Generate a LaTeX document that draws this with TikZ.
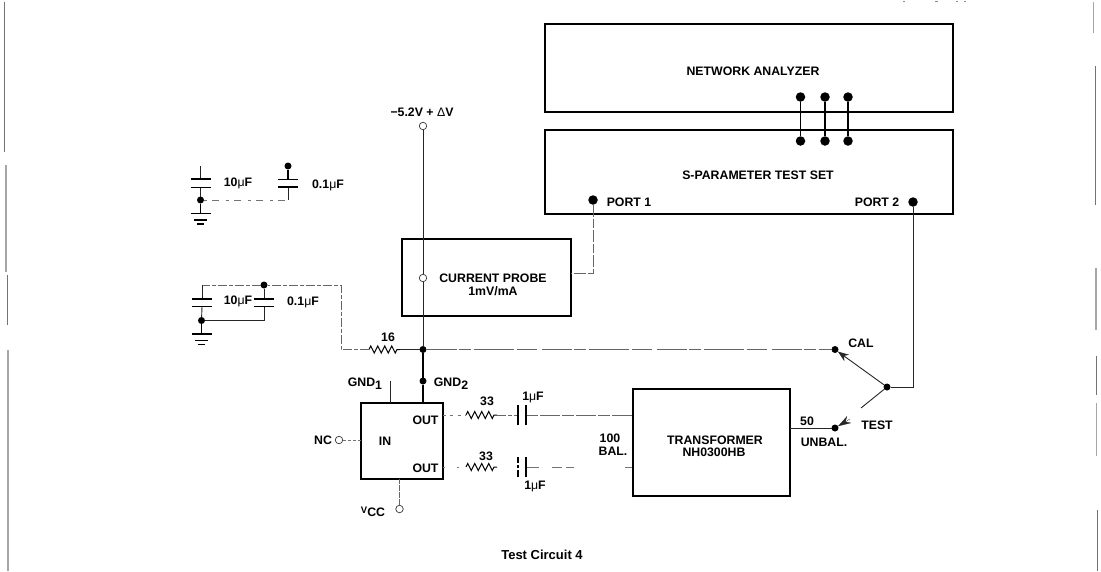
\documentclass[tikz,border=0pt]{standalone}
\usepackage{fontspec}
\setmainfont{Liberation Sans}
\usetikzlibrary{arrows.meta,decorations.pathmorphing,calc}
\newcommand{\mumd}{{\mdseries μ}}
\tikzset{
  x=1pt,y=-1pt,
  box/.style={draw=black,line width=2.2pt,inner sep=0pt,outer sep=0pt},
  wire/.style={draw=black!85,line width=0.9pt},
  thickwire/.style={draw=black,line width=1.3pt},
  faint/.style={draw=black!60,line width=0.7pt,dash pattern=on 9pt off 2pt on 4pt off 2pt},
  veryfaint/.style={draw=black!55,line width=0.6pt,dash pattern=on 3pt off 5pt on 7pt off 7pt},
  plate/.style={draw=black,line width=1.3pt},
  dot/.style={circle,fill=black,draw=none,minimum size=7pt,inner sep=0pt,outer sep=0pt},
  bigdot/.style={circle,fill=black,draw=none,minimum size=9.5pt,inner sep=0pt,outer sep=0pt},
  open/.style={circle,fill=white,draw=black!80,line width=0.7pt,minimum size=7.5pt,inner sep=0pt,outer sep=0pt},
  lab/.style={inner sep=0pt,font=\fontsize{12.3}{13}\selectfont\bfseries},
  res/.style={draw=black,line width=1pt,decorate,decoration={zigzag,segment length=7pt,amplitude=3.6pt}},
  scan/.style={draw=black!55,line width=1pt},
  scanlight/.style={draw=black!35,line width=1.3pt},
}
\newcommand{\hplate}[1]{\draw[plate] ([xshift=-10pt]#1) -- ([xshift=10pt]#1);}
\newcommand{\vplate}[1]{\draw[plate] ([yshift=-10pt]#1) -- ([yshift=10pt]#1);}
\newcommand{\groundat}[1]{%
  \draw[plate] ([xshift=-10pt]#1) -- ([xshift=10pt]#1);
  \draw[plate] ([xshift=-6.5pt,yshift=-6.5pt]#1) -- ([xshift=6.5pt,yshift=-6.5pt]#1);
  \draw[plate,line width=1.6pt] ([xshift=-3.5pt,yshift=-10.5pt]#1) -- ([xshift=3.5pt,yshift=-10.5pt]#1);}
\begin{document}
\begin{tikzpicture}
\useasboundingbox[fill=white] (0,0) rectangle (1101,571);
% scan edge marks
\draw[scan] (4.7,2) -- (4.7,152);
\draw[scanlight] (6,165) -- (6,272);
\draw[scan] (7,275) -- (7,325);
\draw[scanlight] (8,350) -- (8,571);
\draw[scanlight] (1093.5,2) -- (1093.5,33);
\draw[scan] (1095,66) -- (1095,205);
\draw[scanlight] (1096,268) -- (1096,330);
\draw[scan] (1096,356) -- (1096,395);
\draw[scanlight] (1096.5,403) -- (1096.5,456);
\draw[scan] (1097.5,510) -- (1097.5,571);
\draw[draw=black!45,line width=0.7pt,dash pattern=on 2pt off 30pt on 3pt off 18pt on 2pt off 6pt] (903,1.5) -- (985,1.5);
% boxes
\node[box,minimum width=408pt,minimum height=88pt] (na) at (749,68) {};
\node[box,minimum width=408pt,minimum height=84pt] (sp) at (749,172) {};
\node[box,minimum width=169pt,minimum height=77pt] (probe) at (486.5,277.5) {};
\node[box,minimum width=82pt,minimum height=76pt] (ic) at (402,441) {};
\node[box,minimum width=157pt,minimum height=107pt] (trans) at (711.5,442.5) {};
% box labels
\node[lab] (natxt) at (753,71) {NETWORK ANALYZER};
\node[lab] (sptxt) at (758,175) {S-PARAMETER TEST SET};
\node[lab] (p1txt) at (629,202) {PORT 1};
\node[lab] (p2txt) at (877,202) {PORT 2};
\node[lab] (cptxt) at (493,278) {CURRENT PROBE};
\node[lab] (mvtxt) at (493,291) {1mV/mA};
\node[lab] (trtxt) at (715,440) {TRANSFORMER};
\node[lab] (nhtxt) at (714,452) {NH0300HB};
\node[lab] (outa) at (425.5,420) {OUT};
\node[lab] (outb) at (425.5,468) {OUT};
\node[lab] (intxt) at (385,441) {IN};
% test-set links
\node[bigdot] (a1) at (800.5,97) {};
\node[bigdot] (a2) at (825,97) {};
\node[bigdot] (a3) at (848,97) {};
\node[bigdot] (b1) at (800.5,141) {};
\node[bigdot] (b2) at (825,141) {};
\node[bigdot] (b3) at (848,141) {};
\draw[thickwire] (a1) -- (b1);
\draw[thickwire] (a2) -- (b2);
\draw[thickwire] (a3) -- (b3);
\node[bigdot] (p1) at (593,200) {};
\node[bigdot] (p2) at (913,202) {};
% supply
\node[open] (vee) at (423,126) {};
\node[lab] (veetxt) at (422,112) {\textminus5.2V + {\mdseries Δ}V};
\node[open] (pc) at (423,278) {};
\node[dot] (jn) at (423,349.5) {};
\node[dot] (g2) at (423,381) {};
\draw[wire] (vee) -- (pc);
\draw[wire] (pc) -- (jn);
\draw[thickwire] (jn) -- (g2);
\draw[thickwire] (g2) -- (423,403);
\coordinate (g1t) at (390.5,381);
\coordinate (g1b) at (390.5,403);
\draw[wire] (g1t) -- (g1b);
\node[lab] (g1txt) at (365,384) {GND\raisebox{-3pt}{1}};
\node[lab] (g2txt) at (451,384) {GND\raisebox{-3pt}{2}};
% port 1 to probe
\coordinate (p1c) at (593,273);
\draw[draw=black!60,line width=0.7pt,dash pattern=on 12pt off 2pt on 9pt off 2pt] (p1) -- (p1c) -- (p1c -| probe.east);
% resistor 16 and bias network
\coordinate (r16a) at (369,349.5);
\coordinate (r16b) at (400,349.5);
\coordinate (bc1) at (341,349.5);
\coordinate (bc2) at (341,285);
\node[dot] (d2) at (264,285) {};
\coordinate (c1t) at (202,285);
\draw[res] (r16a) -- (r16b);
\draw[faint] (r16a) -- (bc1) -- (bc2) -- (d2) -- (c1t);
\draw[wire] (r16b) -- (jn);
\node[lab] (r16txt) at (388,337) {16};
% lower pair of capacitors
\coordinate (cu1) at (202,299);
\coordinate (cl1) at (202,306.5);
\coordinate (cu2) at (264,299);
\coordinate (cl2) at (264,306.5);
\node[dot] (d1) at (201.5,320.5) {};
\coordinate (gnd2) at (201.5,334);
\coordinate (c2b) at (264,320.5);
\draw[wire] (c1t) -- (cu1);
\draw[wire] (cl1) -- (d1);
\draw[thickwire] (d1) -- (gnd2);
\draw[wire] (d2) -- (cu2);
\draw[wire] (cl2) -- (c2b) -- (d1);
\hplate{cu1}\hplate{cl1}\hplate{cu2}\hplate{cl2}
\groundat{gnd2}
\node[lab] (t10b) at (238,301) {10\mumd F};
\node[lab] (t01b) at (303,302) {0.1\mumd F};
% upper pair of capacitors
\coordinate (ct) at (200.5,166);
\coordinate (cu3) at (200.5,179);
\coordinate (cl3) at (200.5,187.5);
\node[dot] (d3) at (200.5,200) {};
\coordinate (gnd1) at (200.5,213.5);
\node[dot] (d4) at (288,166) {};
\coordinate (cu4) at (288,179.5);
\coordinate (cl4) at (288,187);
\coordinate (c4b) at (288,200);
\draw[wire] (ct) -- (cu3);
\draw[wire] (cl3) -- (d3);
\draw[thickwire] (d3) -- (gnd1);
\draw[thickwire] (d4) -- (cu4);
\draw[veryfaint] (d3) -- (c4b);
\draw[wire] (c4b) -- (cl4);
\hplate{cu3}\hplate{cl3}\hplate{cu4}\hplate{cl4}
\groundat{gnd1}
\node[lab] (t10a) at (238,183) {10\mumd F};
\node[lab] (t01a) at (328,185) {0.1\mumd F};
% IC side pins
\node[open] (nc) at (339,440) {};
\node[lab] (nctxt) at (323,440) {NC};
\draw[veryfaint,dash pattern=on 3pt off 2pt] (nc) -- (nc -| ic.west);
\node[open] (vcc) at (399.5,509) {};
\node[lab] (vcctxt) at (373,512) {\raisebox{3pt}{\fontsize{9.5}{10}\selectfont V}CC};
\draw[draw=black!60,line width=0.8pt,dash pattern=on 6pt off 1pt] (vcc) -- (vcc |- ic.south);
% outputs
\coordinate (ra) at (466,415);
\coordinate (rb) at (497,415);
\coordinate (ca1) at (518,415);
\coordinate (ca2) at (526,415);
\coordinate (rc) at (466,467);
\coordinate (rd) at (497,467);
\coordinate (cb1) at (518,467);
\coordinate (cb2) at (526,467);
\draw[res] (ra) -- (rb);
\draw[res] (rc) -- (rd);
\draw[veryfaint,dash pattern=on 3pt off 4pt on 3pt off 5pt] (ra -| ic.east) -- (ra);
\draw[veryfaint,dash pattern=on 2pt off 12pt] (rc -| ic.east) -- (rc);
\draw[faint] (rb) -- (ca1);
\draw[faint,dash pattern=on 12pt off 2pt on 20pt off 2pt] (ca2) -- (ca2 -| trans.west);
\draw[draw=black!55,line width=0.6pt,dash pattern=on 13pt off 13pt on 10pt off 4pt on 8pt off 51pt on 7pt] (cb2) -- (cb2 -| trans.west);
\vplate{ca1}\vplate{ca2}\vplate{cb2}
\draw[plate,dash pattern=on 7pt off 2pt on 3pt off 2pt on 6pt] ([yshift=-10pt]cb1) -- ([yshift=10pt]cb1);
\node[lab] (r33a) at (487,401) {33};
\node[lab] (r33b) at (486,456) {33};
\node[lab] (c1a) at (533,397) {1\mumd F};
\node[lab] (c1b) at (535,486) {1\mumd F};
\node[lab] (t100) at (610,438) {100};
\node[lab] (tbal) at (613,451) {BAL.};
% switch
\node[dot] (cal) at (835,349.5) {};
\node[dot] (test) at (835,428) {};
\node[dot] (sw) at (887,387) {};
\coordinate (swend) at (861,408);
\coordinate (tarr) at (850,419);
\coordinate (p2c) at (913,387);
\draw[draw=black!60,line width=0.7pt,dash pattern=on 30pt off 2pt on 12pt off 3pt on 40pt off 3pt on 20pt off 5pt] (jn) -- (cal);
\draw[wire,-{Stealth[length=11pt,width=8pt]}] (sw) -- (cal);
\draw[wire] (sw) -- (swend);
\draw[wire] (trans.east |- test) -- (test);
\draw[wire,line width=0.3pt,{Stealth[length=13pt,width=8pt]}-] (test) -- (tarr);
\draw[wire] (sw) -- (p2c) -- (p2);
\node[lab] (caltxt) at (861,343) {CAL};
\node[lab] (testtxt) at (877,425) {TEST};
\node[lab] (t50) at (807,421) {50};
\node[lab] (unbal) at (824,442) {UNBAL.};
% title
\node[lab,font=\fontsize{13}{14}\selectfont\bfseries] (title) at (542,555) {Test Circuit 4};
\end{tikzpicture}
\end{document}
